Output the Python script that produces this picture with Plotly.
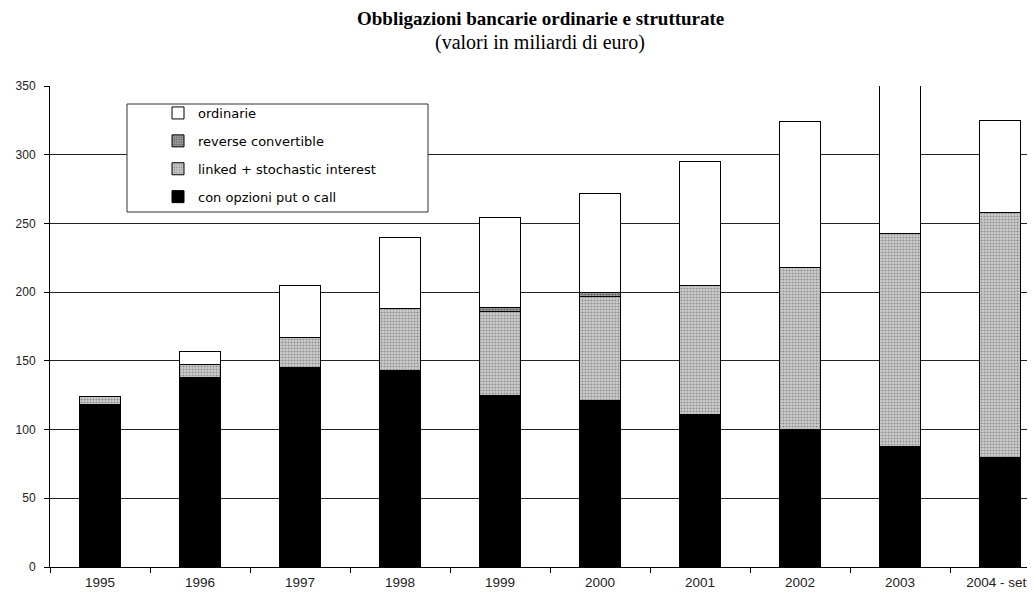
import plotly.graph_objects as go

categories = ["1995", "1996", "1997", "1998", "1999", "2000", "2001", "2002", "2003", "2004 - sett."]
con_opzioni = [118, 138, 145, 143, 125, 121, 111, 100, 88, 80]
linked = [6, 9, 22, 45, 61, 76, 94, 118, 155, 178]
reverse_conv = [0, 0, 0, 0, 3, 2.5, 0, 0, 0, 0]
ordinarie = [0, 10, 38, 52, 65, 72, 90, 106, 108, 67]
y_ticks = [0, 50, 100, 150, 200, 250, 300, 350]

W, H = 1035, 592
OFF = 8  # page body margin
L, R, T, B = 42, 8, 78, 33
PW, PH = W - L - R, H - T - B

def px_x(p):
    return (p - OFF - L) / PW

def px_y(p):
    return (H - B - (p - OFF)) / PH

fig = go.Figure()
line = dict(color="black", width=1)
fig.add_trace(go.Bar(x=categories, y=con_opzioni, name="con opzioni put o call",
                     legendgroup="a", legendrank=4, marker=dict(color="black", line=line)))
fig.add_trace(go.Bar(x=categories, y=linked, name="linked + stochastic interest",
                     legendgroup="b", legendrank=3,
                     marker=dict(color="#cfcfcf", line=line,
                                 pattern=dict(shape=".", fgcolor="#505050", size=3, solidity=0.4))))
fig.add_trace(go.Bar(x=categories, y=reverse_conv, name="reverse convertible",
                     legendgroup="c", legendrank=2,
                     marker=dict(color="#b0b0b0", line=line,
                                 pattern=dict(shape=".", fgcolor="#222222", size=3, solidity=0.5))))
fig.add_trace(go.Bar(x=categories, y=ordinarie, name="ordinarie",
                     legendgroup="d", legendrank=1, marker=dict(color="white", line=line)))

# legend frame
fig.add_shape(type="rect", xref="paper", yref="paper",
              x0=px_x(127), x1=px_x(428), y0=px_y(212), y1=px_y(104),
              line=dict(color="#333333", width=1), fillcolor="white", layer="above")

fig.add_annotation(text="<b>Obbligazioni bancarie ordinarie e strutturate</b>",
                   xref="paper", yref="paper", x=px_x(540), y=px_y(18),
                   xanchor="center", yanchor="middle", showarrow=False,
                   font=dict(family="Liberation Serif", size=19, color="black"))
fig.add_annotation(text="(valori in miliardi di euro)",
                   xref="paper", yref="paper", x=px_x(540), y=px_y(42),
                   xanchor="center", yanchor="middle", showarrow=False,
                   font=dict(family="Liberation Serif", size=20, color="black"))

fig.update_layout(
    width=W, height=H,
    margin=dict(l=L, r=R, t=T, b=B),
    paper_bgcolor="white", plot_bgcolor="white",
    barmode="stack", bargap=0.59,
    font=dict(family="Liberation Sans", size=12, color="#222222"),
    showlegend=True,
    legend=dict(x=px_x(158), y=px_y(98), xanchor="left", yanchor="top",
                bgcolor="rgba(0,0,0,0)", borderwidth=0,
                traceorder="grouped", tracegroupgap=8,
                font=dict(family="DejaVu Sans", size=13, color="black")),
    xaxis=dict(type="category", range=[-0.5, 9.35], showgrid=False,
               showline=True, linecolor="black", linewidth=1,
               ticks="outside", tickson="boundaries", ticklen=5, tickcolor="black",
               ticklabelstandoff=3, tickfont=dict(size=13.5)),
    yaxis=dict(range=[0, 350], tickvals=y_ticks, showgrid=True, gridcolor="#222222",
               gridwidth=1, showline=True, linecolor="black", linewidth=1,
               ticks="outside", ticklen=5, tickcolor="black", zeroline=False,
               ticklabelstandoff=6, tickfont=dict(size=12)),
)

fig.write_html("out.html")
